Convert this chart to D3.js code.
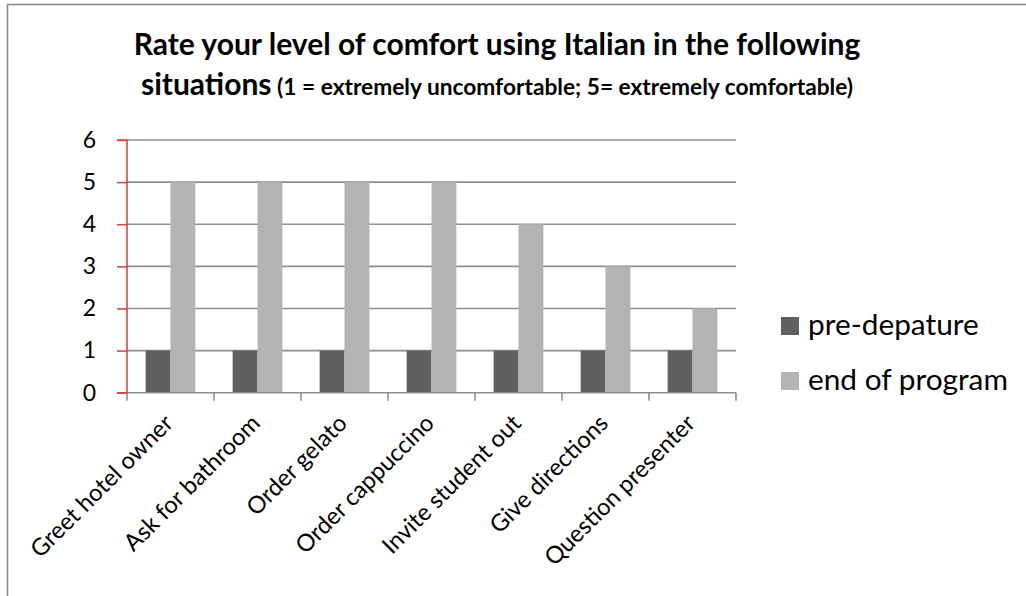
<!DOCTYPE html>
<html><head><meta charset="utf-8">
<script src="https://cdn.jsdelivr.net/npm/d3@7"></script>
<style>body{margin:0;background:#fff} svg{display:block}</style>
</head><body>
<svg id="chart" width="1026" height="596"></svg>
<script>
// ---- data ----
const categories = ["Greet hotel owner","Ask for bathroom","Order gelato","Order cappuccino","Invite student out","Give directions","Question presenter"];
const seriesNames = ["pre-depature","end of program"];
const preDeparture = [1,1,1,1,1,1,1];
const endOfProgram = [5,5,5,5,4,3,2];
const yTicks = [0,1,2,3,4,5,6];
const titleLine1 = "Rate your level of comfort using Italian in the following";
const titleLine2a = "situations";
const titleLine2b = " (1 = extremely uncomfortable; 5= extremely comfortable)";

// ---- style / layout ----
const FONT = "Lato, 'Open Sans', sans-serif";
const colors = ["#606060", "#b3b3b3"];
const gridColor = "#8e8e8e";
const yAxisColor = "#d24b4b";
const plot = {left: 127, right: 736, top: 140, bottom: 392.7};

const svg = d3.select("#chart");
svg.append("rect").attr("x",0).attr("y",0).attr("width",1026).attr("height",596).attr("fill","#fff");
// outer chart frame (only top and left visible)
svg.append("rect").attr("x",7.5).attr("y",4.5).attr("width",1100).attr("height",700)
  .attr("fill","none").attr("stroke","#8a8a8a").attr("stroke-width",1.6);

function fit(sel, target){
  const fs = parseFloat(sel.attr("font-size"));
  const w = sel.node().getComputedTextLength();
  sel.attr("font-size", fs*target/w);
  return fs*target/w;
}

const x0 = d3.scaleBand().domain(categories).range([plot.left, plot.right]).paddingInner(0).paddingOuter(0);
const x1 = d3.scaleBand().domain(seriesNames).range([0, x0.bandwidth()]).paddingInner(0).paddingOuter(0.75);
const y = d3.scaleLinear().domain([0,6]).range([plot.bottom, plot.top]);

// gridlines
svg.append("g").selectAll("line").data(yTicks.filter(d=>d>0)).join("line")
  .attr("x1", plot.left).attr("x2", plot.right)
  .attr("y1", d=>y(d)).attr("y2", d=>y(d))
  .attr("stroke", gridColor).attr("stroke-width", 1.6);

// bars
const rows = categories.map((c,i)=>({c, vals:[preDeparture[i], endOfProgram[i]]}));
const g = svg.append("g").selectAll("g").data(rows).join("g")
  .attr("transform", d=>`translate(${x0(d.c)},0)`);
g.selectAll("rect").data(d=>d.vals.map((v,j)=>({s:seriesNames[j], v, j}))).join("rect")
  .attr("x", d=>x1(d.s)).attr("width", x1.bandwidth())
  .attr("y", d=>y(d.v)).attr("height", d=>y(0)-y(d.v))
  .attr("fill", d=>colors[d.j]);

// x axis
const xAxisG = svg.append("g").attr("transform", `translate(0,${plot.bottom})`);
xAxisG.append("line").attr("x1", plot.left).attr("x2", plot.right).attr("stroke", gridColor).attr("stroke-width",1.6);
const bounds = categories.map(c=>x0(c)).concat([plot.right]);
xAxisG.selectAll("line.tick").data(bounds).join("line").attr("class","tick")
  .attr("x1", d=>d).attr("x2", d=>d).attr("y1",0).attr("y2",8)
  .attr("stroke", gridColor).attr("stroke-width",1.6);

// x labels
let labelSize = 22;
const labels = svg.append("g").selectAll("text").data(categories).join("text")
  .attr("font-family", FONT).attr("font-size", labelSize).attr("fill","#000")
  .attr("text-anchor","end")
  .attr("transform", d=>`translate(${x0(d)+x0.bandwidth()/2+4},${plot.bottom+32}) rotate(-45)`)
  .text(d=>d);
{
  const first = labels.filter((d,i)=>i===0);
  const w = first.node().getComputedTextLength();
  labelSize = labelSize*190/w;
  labels.attr("font-size", labelSize);
}

// y axis (red) with outward ticks
const yAxis = d3.axisLeft(y).tickValues(yTicks).tickSize(10).tickPadding(21).tickFormat(d3.format("d"));
const yG = svg.append("g").attr("transform", `translate(${plot.left},0)`).call(yAxis);
yG.select(".domain").attr("stroke", yAxisColor).attr("stroke-width",1.6).attr("d", `M-10,${plot.top}H0V${plot.bottom}H-10`);
yG.selectAll(".tick line").attr("stroke", yAxisColor).attr("stroke-width",1.6);
yG.selectAll(".tick text").attr("font-family", FONT).attr("font-size", 23).attr("fill","#000");

// legend
const legend = svg.append("g");
const legY = [317, 372];
seriesNames.forEach((s,i)=>{
  legend.append("rect").attr("x",781).attr("y",legY[i]).attr("width",18).attr("height",18).attr("fill",colors[i]);
});
const legText = legend.selectAll("text").data(seriesNames).join("text")
  .attr("x", 808).attr("y",(d,i)=>legY[i]+18)
  .attr("font-family", FONT).attr("font-size", 30).attr("fill","#000").text(d=>d);
{
  const t = legText.filter((d,i)=>i===1);
  const fs = 30*200/t.node().getComputedTextLength();
  legText.attr("font-size", fs);
}

// title
const cx = 497;
const t1 = svg.append("text").attr("x",cx).attr("y",55).attr("text-anchor","middle")
  .attr("font-family", FONT).attr("font-weight","bold").attr("font-size",26).attr("fill","#000")
  .text(titleLine1);
const S = fit(t1, 727);
const t2 = svg.append("text").attr("x",cx).attr("y",95).attr("text-anchor","middle")
  .attr("font-family", FONT).attr("font-weight","bold").attr("fill","#000");
const ts1 = t2.append("tspan").attr("font-size", S).text(titleLine2a);
const ts2 = t2.append("tspan").attr("font-size", S*0.7).text(titleLine2b);
{
  const w1 = ts1.node().getComputedTextLength();
  const w2 = ts2.node().getComputedTextLength();
  ts2.attr("font-size", S*0.7*(712-w1)/w2);
}
</script>
</body></html>
